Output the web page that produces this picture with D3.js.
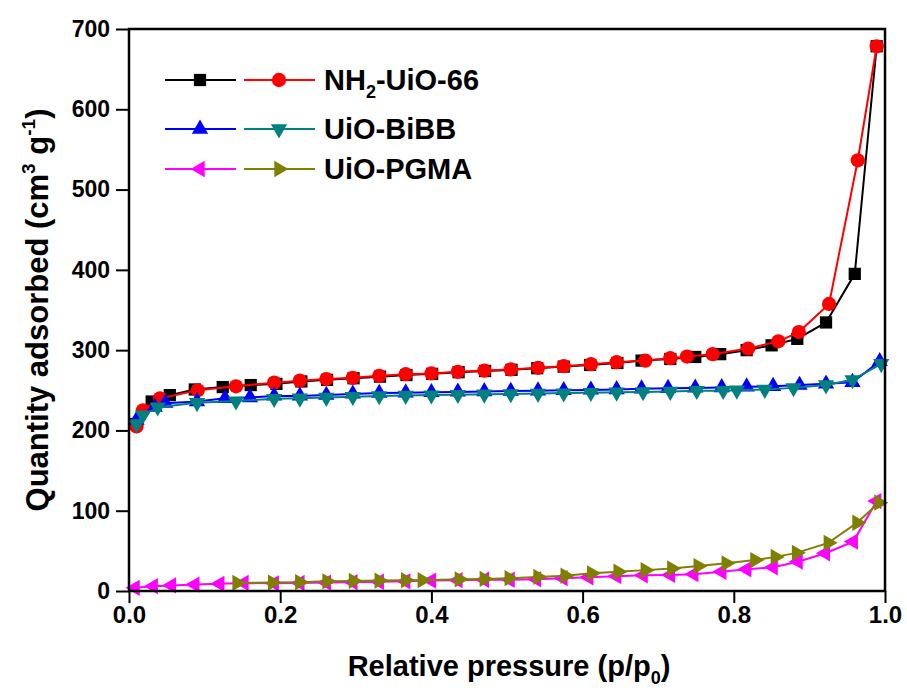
<!DOCTYPE html>
<html>
<head>
<meta charset="utf-8">
<script src="https://cdn.jsdelivr.net/npm/d3@7"></script>
<style>
  body { margin: 0; background: #fff; }
  svg { display: block; font-family: "Liberation Sans", Arial, sans-serif; }
</style>
</head>
<body>
<div id="chart"></div>
<script>
// relative pressure / quantity adsorbed pairs
var nhAds = [[0.007,208],[0.030,236],[0.054,244],[0.087,251],[0.124,254],[0.161,256.5],[0.195,258],[0.228,261],[0.262,263],[0.297,265],[0.332,267],[0.367,269],[0.401,270.5],[0.436,272.5],[0.471,274],[0.506,275.5],[0.540,277.5],[0.575,279.5],[0.610,281.5],[0.646,284],[0.678,287],[0.716,289],[0.749,291.5],[0.782,295],[0.817,300],[0.850,306],[0.884,314],[0.922,334.5],[0.960,395],[0.989,678.5]];
var nhDes = [[0.010,205],[0.0185,225],[0.041,240],[0.091,250],[0.1415,255],[0.192,259.5],[0.226,262],[0.261,264],[0.296,265.5],[0.331,268],[0.366,270],[0.400,271],[0.435,273],[0.470,274.5],[0.505,276],[0.541,278],[0.575,280],[0.611,282.5],[0.645,285],[0.683,287],[0.716,290],[0.738,292],[0.772,295],[0.819,302],[0.859,311],[0.886,322.5],[0.926,357.5],[0.964,536.5],[0.989,678.5]];
var bibbAds = [[0.010,213],[0.034,229],[0.048,234],[0.090,236],[0.127,240],[0.160,241],[0.192,243],[0.226,243],[0.261,244],[0.296,245.5],[0.331,246.5],[0.366,247],[0.400,247.5],[0.435,248],[0.470,248.5],[0.505,249],[0.541,249.5],[0.575,250],[0.611,250.5],[0.645,251],[0.678,252],[0.713,252.5],[0.749,253],[0.784,253.5],[0.817,254.5],[0.852,255],[0.887,256.5],[0.922,258],[0.957,260],[0.993,286]];
var bibbDes = [[0.010,208],[0.0185,219],[0.038,229],[0.090,234.5],[0.1415,236.5],[0.192,239.5],[0.226,240],[0.261,241],[0.296,242],[0.331,243],[0.366,243.5],[0.400,244],[0.435,244.5],[0.470,245],[0.505,245.5],[0.541,246],[0.575,246.5],[0.611,247],[0.645,247.5],[0.680,248],[0.716,248.5],[0.751,249.5],[0.786,249.5],[0.804,250],[0.841,251],[0.879,253],[0.922,256.5],[0.957,263],[0.995,283]];
var pgmaAds = [[0.008,4],[0.032,6],[0.056,7],[0.087,8],[0.120,9],[0.152,10],[0.192,9.5],[0.226,10],[0.261,10.5],[0.296,11],[0.331,11.5],[0.366,12],[0.400,13],[0.435,13.5],[0.470,14],[0.504,14],[0.539,14.5],[0.574,16],[0.608,17],[0.645,18.5],[0.680,19.5],[0.716,20],[0.747,21],[0.784,24],[0.817,27],[0.852,29.5],[0.885,36.5],[0.921,47],[0.958,61.5],[0.989,112]];
var pgmaDes = [[0.143,10],[0.190,10.5],[0.226,11],[0.262,12],[0.297,12.5],[0.331,13],[0.366,13.5],[0.388,13.5],[0.437,14.5],[0.470,15],[0.503,16],[0.541,17.5],[0.577,19],[0.612,22],[0.647,24],[0.683,26],[0.718,28],[0.753,31],[0.790,34.5],[0.828,38.5],[0.855,42.5],[0.883,47.5],[0.925,60],[0.963,85],[0.992,110]];

var xTicks = [0, 0.2, 0.4, 0.6, 0.8, 1.0];
var yTicks = [0, 100, 200, 300, 400, 500, 600, 700];
var legendNames = ["NH2-UiO-66", "UiO-BiBB", "UiO-PGMA"];

var width = 907, height = 696;
var margin = {left: 129, top: 29, right: 22, bottom: 105};

var svg = d3.select("#chart").append("svg")
    .attr("width", width)
    .attr("height", height);

var x = d3.scaleLinear().domain([0, 1]).range([margin.left, width - margin.right]);
var y = d3.scaleLinear().domain([0, 700]).range([height - margin.bottom, margin.top]);

// series: data, colour, symbol, rotation
var series = [
    {d: nhAds, c: "#000000", s: d3.symbolSquare, size: 150, rot: 0},
    {d: nhDes, c: "#ff0000", s: d3.symbolCircle, size: 160, rot: 0},
    {d: bibbAds, c: "#0000ff", s: d3.symbolTriangle, size: 115, rot: 0},
    {d: bibbDes, c: "#008080", s: d3.symbolTriangle, size: 115, rot: 180},
    {d: pgmaAds, c: "#ff00ff", s: d3.symbolTriangle, size: 115, rot: -90},
    {d: pgmaDes, c: "#808000", s: d3.symbolTriangle, size: 115, rot: 90}
];

// axes (ticks outward on left and bottom)
var xAxis = svg.append("g").attr("transform", "translate(0," + y(0) + ")");
xAxis.call(d3.axisBottom(x).tickValues(d3.range(0, 1.001, 0.1)).tickSize(7).tickFormat(""));
xAxis.call(d3.axisBottom(x).tickValues(xTicks).tickSize(12).tickFormat(d3.format(".1f")).tickPadding(3));
xAxis.selectAll("path").remove();
xAxis.selectAll("line").attr("stroke", "#000").attr("stroke-width", 2);
xAxis.selectAll("text").attr("font-size", 24).attr("font-weight", "bold").attr("fill", "#000")
    .attr("font-family", "Liberation Sans, Arial, sans-serif");

var yAxis = svg.append("g").attr("transform", "translate(" + x(0) + ",0)");
yAxis.call(d3.axisLeft(y).tickValues(d3.range(0, 701, 50)).tickSize(7).tickFormat(""));
yAxis.call(d3.axisLeft(y).tickValues(yTicks).tickSize(13).tickFormat(d3.format("d")).tickPadding(6));
yAxis.selectAll("path").remove();
yAxis.selectAll("line").attr("stroke", "#000").attr("stroke-width", 2);
yAxis.selectAll("text").attr("font-size", 23).attr("font-weight", "bold").attr("fill", "#000")
    .attr("font-family", "Liberation Sans, Arial, sans-serif");

// data lines and markers
var line = d3.line().x(function(d){return x(d[0])}).y(function(d){return y(d[1])});

series.forEach(function(s){
    svg.append("path").datum(s.d)
        .attr("d", line)
        .attr("fill", "none")
        .attr("stroke", s.c)
        .attr("stroke-width", 2);
    svg.append("g").selectAll("path").data(s.d).enter().append("path")
        .attr("d", d3.symbol().type(s.s).size(s.size))
        .attr("transform", function(d){return "translate(" + x(d[0]) + "," + y(d[1]) + ") rotate(" + s.rot + ")"})
        .attr("fill", s.c);
});

// frame
svg.append("rect")
    .attr("x", x(0)).attr("y", y(700))
    .attr("width", x(1) - x(0)).attr("height", y(0) - y(700))
    .attr("fill", "none").attr("stroke", "#000").attr("stroke-width", 2.5);

// legend
var legendY = [80, 129, 169];
legendNames.forEach(function(name, i){
    var pair = [series[2*i], series[2*i+1]];
    pair.forEach(function(s, j){
        var x0 = 165 + j*79;
        svg.append("line")
            .attr("x1", x0).attr("x2", x0 + 71)
            .attr("y1", legendY[i]).attr("y2", legendY[i])
            .attr("stroke", s.c).attr("stroke-width", 2);
        svg.append("path")
            .attr("d", d3.symbol().type(s.s).size(s.size))
            .attr("transform", "translate(" + (x0 + 35) + "," + legendY[i] + ") rotate(" + s.rot + ")")
            .attr("fill", s.c);
    });
    var t = svg.append("text")
        .attr("x", 324).attr("y", legendY[i] + 10)
        .attr("font-size", 29).attr("font-weight", "bold");
    if (name.indexOf("NH2") === 0) {
        t.append("tspan").text("NH");
        t.append("tspan").text("2").attr("font-size", 18).attr("dy", 8);
        t.append("tspan").text("-UiO-66").attr("dy", -8);
    } else {
        t.text(name);
    }
});

// axis titles
var xt = svg.append("text")
    .attr("x", (x(0) + x(1))/2 + 2).attr("y", 676)
    .attr("text-anchor", "middle")
    .attr("font-size", 29).attr("font-weight", "bold");
xt.append("tspan").text("Relative pressure (p/p");
xt.append("tspan").text("0").attr("font-size", 18).attr("dy", 8);
xt.append("tspan").text(")").attr("dy", -8);

var yt = svg.append("text")
    .attr("transform", "translate(48," + ((y(0) + y(700))/2) + ") rotate(-90)")
    .attr("text-anchor", "middle")
    .attr("font-size", 31).attr("font-weight", "bold");
yt.append("tspan").text("Quantity adsorbed (cm");
yt.append("tspan").text("3").attr("font-size", 19).attr("dy", -13);
yt.append("tspan").text(" g").attr("dy", 13);
yt.append("tspan").text("-1").attr("font-size", 19).attr("dy", -13);
yt.append("tspan").text(")").attr("dy", 13);
</script>
</body>
</html>
